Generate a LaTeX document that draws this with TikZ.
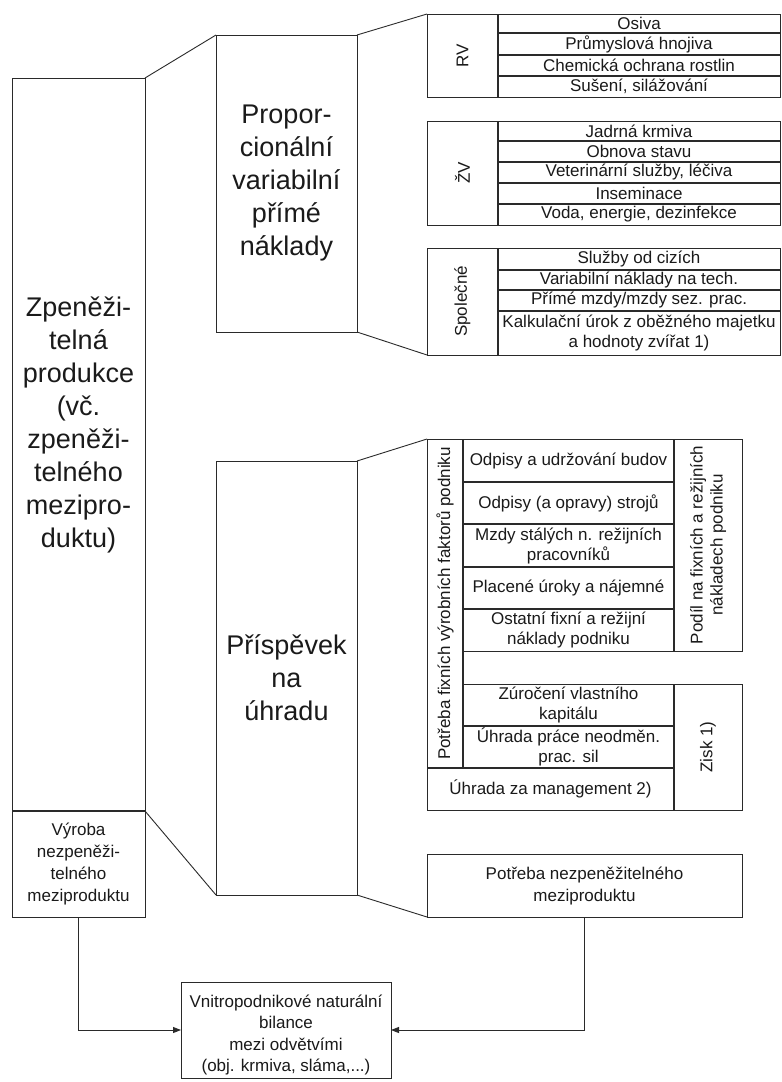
\documentclass[tikz,border=0pt]{standalone}
\usepackage{fontspec}
\setmainfont{Liberation Sans}
\usetikzlibrary{arrows.meta}
\definecolor{lc}{HTML}{2A2A2A}
\definecolor{tc}{HTML}{1A1A1A}
\newcommand\bx[7][]{\node[inner sep=0pt, outer sep=0pt, minimum width={(#5-#3)*1pt}, minimum height={(#6-#4)*1pt}, #1] (#2) at ({(#3+#5)/2},{(#4+#6)/2}) {#7};}
\begin{document}
\begin{tikzpicture}[x=1pt,y=-1pt,
  frame/.style={draw=lc, line width=0.9pt},
  cell/.style={align=center, font=\fontsize{17}{20}\selectfont, text=tc},
  bigtxt/.style={align=center, font=\fontsize{27}{33}\selectfont, text=tc},
  midtxt/.style={align=center, font=\fontsize{17}{22}\selectfont, text=tc},
  div/.style={draw=lc, line width=1.8pt},
  link/.style={draw=lc, line width=0.9pt},
  arr/.style={link, -{Triangle[length=8pt,width=6pt]}}
]
\useasboundingbox[fill=white] (0,0) rectangle (782,1082);

% left column
\bx[frame]{zp}{12}{78}{145}{811}{}
\node[bigtxt] (zptxt) at (78.5,425) {Zpeněži-\\telná\\produkce\\(vč.\\zpeněži-\\telného\\mezipro-\\duktu)};
\bx[frame,midtxt]{vyr}{12}{811}{145}{917}{Výroba\\nezpeněži-\\telného\\meziproduktu}
\draw[div] (vyr.north west) -- (vyr.north east);

% middle column
\bx[frame,bigtxt]{prop}{216}{35}{357}{332}{Propor-\\cionální\\variabilní\\přímé\\náklady}
\bx[frame,bigtxt]{prisp}{216}{461}{357}{895}{Příspěvek\\na\\úhradu}

% RV table
\bx[frame]{rv}{427}{14}{780}{97}{}
\node[cell, rotate=90] (rvl) at (462.5,55.5) {RV};
\bx[cell]{rv1}{498}{14}{780}{33}{Osiva}
\bx[cell]{rv2}{498}{33}{780}{55}{Průmyslová hnojiva}
\bx[cell]{rv3}{498}{55}{780}{76}{Chemická ochrana rostlin}
\bx[cell]{rv4}{498}{76}{780}{97}{Sušení, silážování}
\draw[div] (rv1.north west) -- (rv4.south west);
\foreach \n in {rv1,rv2,rv3} \draw[div] (\n.south west) -- (\n.south east);

% ZV table
\bx[frame]{zv}{427}{121}{780}{225}{}
\node[cell, rotate=90] (zvl) at (462.5,173) {ŽV};
\bx[cell]{zv1}{498}{121}{780}{141}{Jadrná krmiva}
\bx[cell]{zv2}{498}{141}{780}{162}{Obnova stavu}
\bx[cell]{zv3}{498}{162}{780}{183}{Veterinární služby, léčiva}
\bx[cell]{zv4}{498}{183}{780}{204}{Inseminace}
\bx[cell]{zv5}{498}{204}{780}{225}{Voda, energie, dezinfekce}
\draw[div] (zv1.north west) -- (zv5.south west);
\foreach \n in {zv1,zv2,zv3,zv4} \draw[div] (\n.south west) -- (\n.south east);

% Spolecne table
\bx[frame]{sp}{427}{248}{780}{355}{}
\node[cell, rotate=90] (spl) at (462.5,301.5) {Společné};
\bx[cell]{sp1}{498}{248}{780}{270}{Služby od cizích}
\bx[cell]{sp2}{498}{270}{780}{290}{Variabilní náklady na tech.}
\bx[cell]{sp3}{498}{290}{780}{311}{Přímé mzdy/mzdy sez. prac.}
\bx[cell]{sp4}{498}{311}{780}{355}{Kalkulační úrok z oběžného majetku\\a hodnoty zvířat 1)}
\draw[div] (sp1.north west) -- (sp4.south west);
\foreach \n in {sp1,sp2,sp3} \draw[div] (\n.south west) -- (\n.south east);

% fixed block
\bx[frame]{fcol}{427}{439}{463}{768}{}
\node[cell, rotate=90] (fcoll) at (445,603.5) {Potřeba fixních výrobních faktorů podniku};
\bx[frame,cell]{f1}{463}{439}{674}{482}{Odpisy a udržování budov}
\bx[frame,cell]{f2}{463}{482}{674}{524}{Odpisy (a opravy) strojů}
\bx[frame,cell]{f3}{463}{524}{674}{567}{Mzdy stálých n. režijních\\pracovníků}
\bx[frame,cell]{f4}{463}{567}{674}{609}{Placené úroky a nájemné}
\bx[frame,cell]{f5}{463}{609}{674}{651}{Ostatní fixní a režijní\\náklady podniku}
\bx[frame]{pod}{674}{439}{742}{651}{}
\node[cell, rotate=90] (podl) at (708,545) {Podíl na fixních a režijních\\nákladech podniku};
\bx[frame,cell]{g1}{463}{684}{674}{726}{Zúročení vlastního\\kapitálu}
\bx[frame,cell]{g2}{463}{726}{674}{768}{Úhrada práce neodměn.\\prac. sil}
\bx[frame,cell]{mg}{427}{768}{674}{810}{Úhrada za management 2)}
\bx[frame]{zisk}{674}{684}{742}{810}{}
\node[cell, rotate=90] (ziskl) at (708,747) {Zisk 1)};
\draw[div] (f1.north west) -- (g2.south west);
\draw[div] (f1.north east) -- (f5.south east);
\draw[div] (g1.north east) -- (mg.south east);
\foreach \n in {f1,f2,f3,f4,g1} \draw[div] (\n.south west) -- (\n.south east);
\draw[div] (mg.north west) -- (mg.north east);

% Potreba nezpenezitelneho
\bx[frame,midtxt]{pnm}{427}{854}{742}{917}{Potřeba nezpeněžitelného\\meziproduktu}

% Vnitropodnikove
\bx[frame]{vni}{181}{982}{391}{1078}{}
\node[align=center, font=\fontsize{17}{21.5}\selectfont, text=tc] (vnit) at (286,1035) {Vnitropodnikové naturální\\bilance\\mezi odvětvími\\(obj. krmiva, sláma,...)};

% trapezoid links
\draw[link] (zp.north east) -- (prop.north west);
\draw[link] (prop.north east) -- (rv.north west);
\draw[link] (prop.south east) -- (sp.south west);
\draw[link] (zp.south east) -- (prisp.south west);
\draw[link] (prisp.north east) -- (fcol.north west);
\draw[link] (prisp.south east) -- (pnm.south west);

% arrows
\draw[arr] (vyr.south) |- (vni.west);
\draw[arr] (pnm.south) |- (vni.east);
\end{tikzpicture}
\end{document}
